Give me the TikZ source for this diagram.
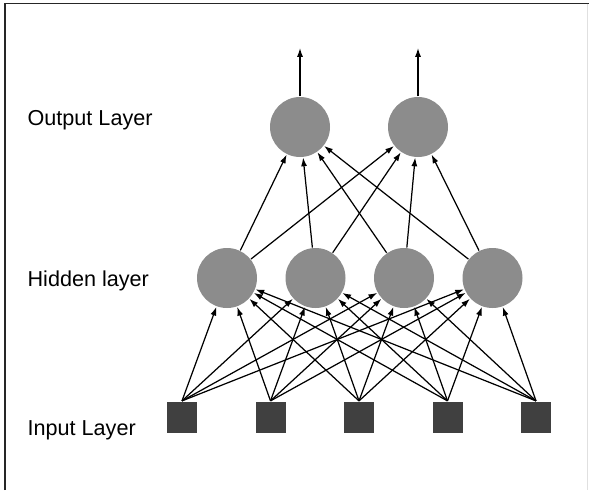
\documentclass[tikz,border=0pt]{standalone}
\usepackage{fontspec}
\setmainfont{Liberation Sans}
\usepackage{xcolor}
\usepackage{tikz}
\usetikzlibrary{arrows.meta, positioning, calc}
\definecolor{neurongray}{HTML}{8C8C8C}
\definecolor{inputgray}{HTML}{404040}
\tikzset{
    neuron/.style={
        circle,
        fill=neurongray,
        inner sep=0pt,
        minimum size=1.2cm,
    },
    inputunit/.style={
        rectangle,
        fill=inputgray,
        inner sep=0pt,
        minimum width=0.6cm,
        minimum height=0.62cm,
    },
    layerlabel/.style={
        anchor=base west,
        inner sep=0pt,
        font=\fontsize{12.3}{14}\selectfont,
    },
}
\begin{document}
\begin{tikzpicture}[->, >={Latex[length=5pt,width=3.4pt]}, line width=0.7pt, on grid]
      \useasboundingbox (-4.54,-4.24) rectangle (7.24,5.56);
      % frame
      \draw[-, line width=0.9pt, black!85] (-4.44,-4.24) -- (-4.44,5.49) -- (7.24,5.49);
      \draw[-, line width=0.5pt, black!12] (7.21,5.49) -- (7.21,-4.24);

      % hidden layer
      \node[neuron] (h1) at (0,0) {};
      \node[neuron, right=1.77cm of h1] (h2) {};
      \node[neuron, right=1.77cm of h2] (h3) {};
      \node[neuron, right=1.77cm of h3] (h4) {};

      % output layer
      \node[neuron, above right=3.02cm and 1.46cm of h1] (o1) {};
      \node[neuron, right=2.36cm of o1] (o2) {};
      \coordinate[above=1.58cm of o1] (y1);
      \coordinate[above=1.58cm of o2] (y2);

      % input layer
      \node[inputunit, below left=2.78cm and 0.9cm of h1] (x1) {};
      \node[inputunit, right=1.77cm of x1] (x2) {};
      \node[inputunit, right=1.77cm of x2] (x3) {};
      \node[inputunit, right=1.77cm of x3] (x4) {};
      \node[inputunit, right=1.77cm of x4] (x5) {};

      % labels
      \node[layerlabel] (lo) at (-4.0,3.06) {Output Layer};
      \node[layerlabel] (lh) at (-4.0,-0.16) {Hidden layer};
      \node[layerlabel] (li) at (-4.0,-3.14) {Input Layer};

      % connections
      \foreach \i in {1,...,5}
        \foreach \j in {1,...,4}
          \draw (x\i.north) -- (h\j);
      \foreach \j in {1,...,4}
        \foreach \k in {1,2}
          \draw (h\j) -- (o\k);
      \draw (o1) -- (y1);
      \draw (o2) -- (y2);

    \end{tikzpicture}
\end{document}
